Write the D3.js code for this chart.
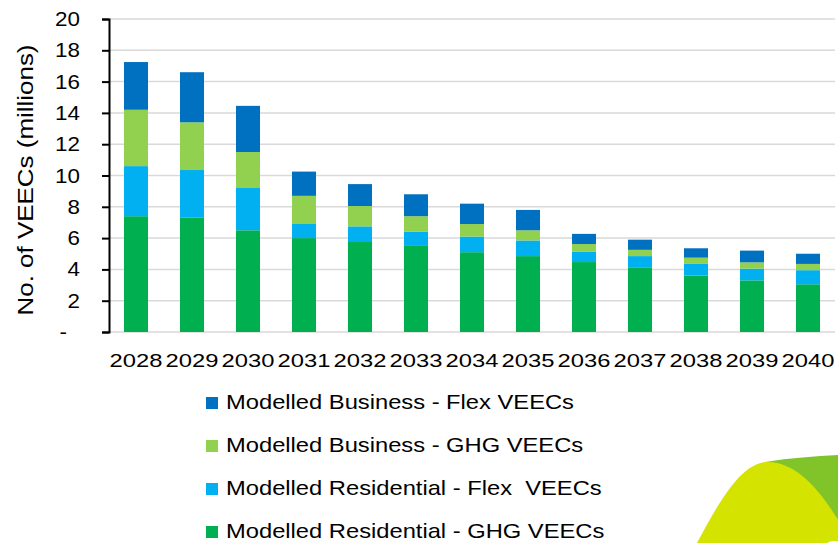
<!DOCTYPE html>
<html>
<head>
<meta charset="utf-8">
<script src="https://cdn.jsdelivr.net/npm/d3@7"></script>
<style>
  body { margin: 0; background: #fff; }
  svg { display: block; font-family: "Liberation Sans", Arial, sans-serif; }
</style>
</head>
<body>
<svg id="chart" width="838" height="543"></svg>
<script>
const years = ["2028", "2029", "2030", "2031", "2032", "2033", "2034", "2035", "2036", "2037", "2038", "2039", "2040"]
// values in millions (bottom to top)
const residentialGhg = [7.4, 7.3, 6.5, 6.0, 5.75, 5.5, 5.1, 4.85, 4.47, 4.1, 3.6, 3.3, 3.05]
const residentialFlex = [3.2, 3.05, 2.7, 0.9, 1.0, 0.9, 1.0, 1.0, 0.65, 0.75, 0.75, 0.75, 0.9]
const businessGhg = [3.6, 3.05, 2.3, 1.8, 1.3, 1.0, 0.8, 0.65, 0.5, 0.4, 0.4, 0.4, 0.4]
const businessFlex = [3.05, 3.2, 2.95, 1.55, 1.4, 1.4, 1.3, 1.3, 0.65, 0.65, 0.6, 0.75, 0.65]
const yTicks = [0, 2, 4, 6, 8, 10, 12, 14, 16, 18, 20]

const series = [
  {key: "resGhg", label: "Modelled Residential - GHG VEECs", values: residentialGhg, color: "#00B050"},
  {key: "resFlex", label: "Modelled Residential - Flex  VEECs", values: residentialFlex, color: "#00B0F0"},
  {key: "busGhg", label: "Modelled Business - GHG VEECs", values: businessGhg, color: "#92D050"},
  {key: "busFlex", label: "Modelled Business - Flex VEECs", values: businessFlex, color: "#0070C0"},
]

const PLOT = {left: 109, right: 835, top: 19, bottom: 332}

const svg = d3.select("#chart")

// decorative swoosh in the corner
svg.append("path")
  .attr("d", "M765,462 C790,458 815,456 838,455 L838,520 C820,495 800,470 765,462 Z")
  .attr("fill", "#80C42A")
svg.append("path")
  .attr("d", "M697,543 C720,500 740,465 765,462 C795,460 820,490 838,520 L838,543 Z")
  .attr("fill", "#D4E300")
svg.append("ellipse")
  .attr("cx", 834)
  .attr("cy", 550)
  .attr("rx", 11)
  .attr("ry", 9)
  .attr("fill", "#fff")

const x = d3.scaleBand()
  .domain(years)
  .range([108, 836])
  .paddingInner(0.571)
  .paddingOuter(0.2855)

const y = d3.scaleLinear()
  .domain([0, 20])
  .range([PLOT.bottom, PLOT.top])

// gridlines
svg.append("g")
  .selectAll("line")
  .data(yTicks)
  .join("line")
  .attr("x1", PLOT.left)
  .attr("x2", PLOT.right)
  .attr("y1", (d) => y(d))
  .attr("y2", (d) => y(d))
  .attr("stroke", "#d9d9d9")
  .attr("stroke-width", 1.5)

// stacked bars
const rows = years.map((yr, i) => {
  const r = {year: yr}
  series.forEach((s) => (r[s.key] = s.values[i]))
  return r
})
const stacked = d3.stack().keys(series.map((s) => s.key))(rows)

svg.append("g")
  .selectAll("g")
  .data(stacked)
  .join("g")
  .attr("fill", (d, i) => series[i].color)
  .selectAll("rect")
  .data((d) => d)
  .join("rect")
  .attr("x", (d) => x(d.data.year))
  .attr("y", (d) => y(d[1]))
  .attr("width", x.bandwidth())
  .attr("height", (d) => y(d[0]) - y(d[1]))

// y axis
const yAxis = svg.append("g")
  .attr("transform", `translate(${PLOT.left},0)`)
  .call(d3.axisLeft(y).tickValues(yTicks).tickSize(7).tickFormat(() => ""))
yAxis.select(".domain").attr("stroke", "#000").attr("stroke-width", 2)
yAxis.selectAll(".tick line").attr("stroke", "#000").attr("stroke-width", 2)

// y tick labels, Excel accounting style: zero shown as a dash further left
svg.append("g")
  .selectAll("text")
  .data(yTicks)
  .join("text")
  .attr("transform", (d) => `translate(${d === 0 ? 67 : 80},${y(d) + 7}) scale(1.12,1)`)
  .attr("text-anchor", "end")
  .attr("font-size", 20)
  .attr("fill", "#000")
  .text((d) => (d === 0 ? "-" : d))

// x labels
svg.append("g")
  .selectAll("text")
  .data(years)
  .join("text")
  .attr("transform", (d) => `translate(${x(d) + x.bandwidth() / 2},367) scale(1.25,1)`)
  .attr("text-anchor", "middle")
  .attr("font-size", 19)
  .attr("fill", "#000")
  .text((d) => d)

// y title
svg.append("text")
  .attr("transform", "translate(33,180) rotate(-90) scale(1.18,1)")
  .attr("text-anchor", "middle")
  .attr("font-size", 22)
  .attr("fill", "#000")
  .text("No. of VEECs (millions)")

// legend, top entry is the top of the stack
const legendItems = series.slice().reverse()
const legend = svg.append("g")
  .selectAll("g")
  .data(legendItems)
  .join("g")
  .attr("transform", (d, i) => `translate(206,${403 + i * 43})`)
legend.append("rect")
  .attr("x", 0)
  .attr("y", -6)
  .attr("width", 12)
  .attr("height", 12)
  .attr("fill", (d) => d.color)
legend.append("text")
  .attr("transform", "translate(20,6) scale(1.13,1)")
  .attr("font-size", 21)
  .attr("fill", "#000")
  .style("white-space", "pre")
  .text((d) => d.label)
</script>
</body>
</html>
